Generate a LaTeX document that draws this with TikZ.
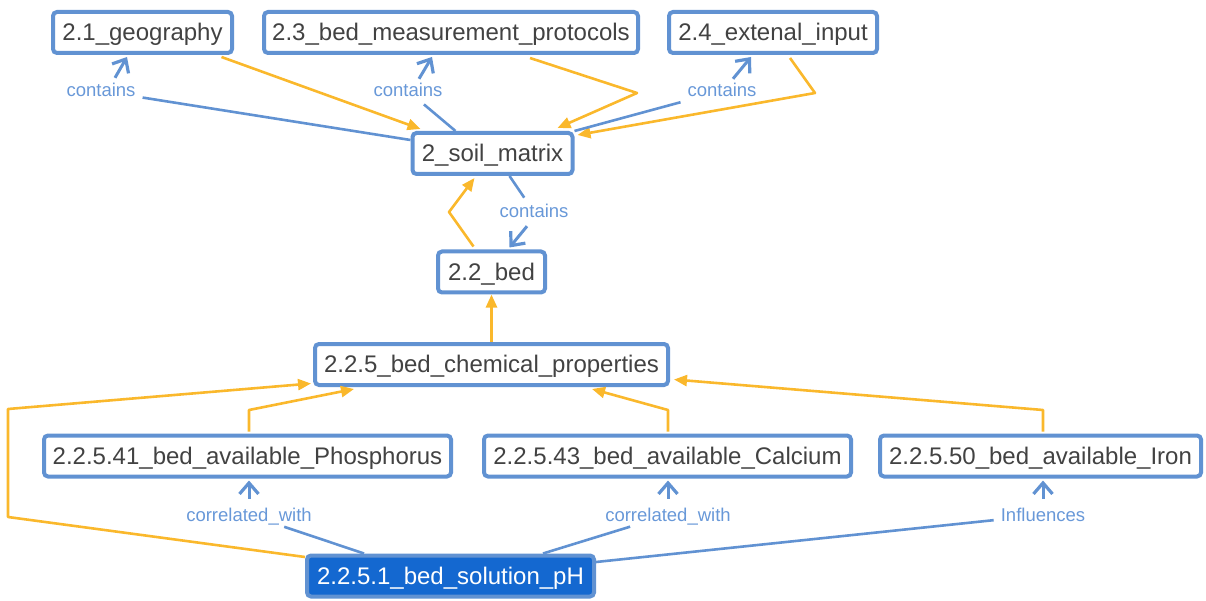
\documentclass[tikz,border=0pt]{standalone}
\usepackage{fontspec}
\setmainfont{Liberation Sans}
\usetikzlibrary{arrows.meta}

\definecolor{nodeblue}{RGB}{97,146,210}
\definecolor{edgeorange}{RGB}{250,184,44}
\definecolor{labelblue}{RGB}{104,152,216}
\definecolor{nodetext}{RGB}{66,66,66}
\definecolor{selfill}{RGB}{20,104,208}

\tikzset{
  concept/.style={draw=nodeblue, line width=4pt, rounded corners=4pt, fill=white,
    text=nodetext, font=\fontsize{24}{28}\selectfont, minimum height=41pt,
    inner sep=0pt, text height=19pt, text depth=3pt},
  selected/.style={concept, fill=selfill, text=white},
  rel/.style={text=labelblue, font=\fontsize{18.5}{21}\selectfont, inner sep=2pt,
    text height=14pt, text depth=2pt},
  partof/.style={draw=edgeorange, line width=2.6pt, line join=round,
    -{Triangle[length=13pt,width=11pt]}},
  relline/.style={draw=nodeblue, line width=2.6pt, shorten >=5pt},
  relarrow/.style={draw=nodeblue, line width=3pt,
    -{Straight Barb[length=11pt,width=19pt,line width=3.2pt]}},
}

\begin{document}
\begin{tikzpicture}[x=1pt, y=-1pt]
\useasboundingbox (0,0) rectangle (1206,601);

% concepts
\node[concept, minimum width=179pt] (geo)  at (142.5,32.5) {2.1\_geography};
\node[concept, minimum width=374pt] (meas) at (451,32.5)   {2.3\_bed\_measurement\_protocols};
\node[concept, minimum width=208pt] (ext)  at (773,32.5)   {2.4\_extenal\_input};
\node[concept, minimum width=160pt] (soil) at (492.5,153.5) {2\_soil\_matrix};
\node[concept, minimum width=107pt] (bed)  at (491.5,272)  {2.2\_bed};
\node[concept, minimum width=353pt] (chem) at (491.5,364.5) {2.2.5\_bed\_chemical\_properties};
\node[concept, minimum width=407pt] (phos) at (247.5,456)  {2.2.5.41\_bed\_available\_Phosphorus};
\node[concept, minimum width=367pt] (calc) at (667.5,456)  {2.2.5.43\_bed\_available\_Calcium};
\node[concept, minimum width=321pt] (iron) at (1040.5,456) {2.2.5.50\_bed\_available\_Iron};
\node[selected, minimum width=287pt] (ph) at (450.5,576)   {2.2.5.1\_bed\_solution\_pH};

% relation labels
\node[rel] (gl) at (101,91)  {contains};
\node[rel] (ml) at (408,91)  {contains};
\node[rel] (el) at (722,91)  {contains};
\node[rel] (bl) at (534,212) {contains};
\node[rel] (pl) at (249,515) {correlated\_with};
\node[rel] (cl) at (668,515) {correlated\_with};
\node[rel] (fl) at (1043,515) {Influences};

% part-of links
\draw[partof] ([xshift=79pt,yshift=-2pt]geo.south) -- ([xshift=10pt,yshift=2pt]soil.north west);
\draw[partof] ([xshift=79pt,yshift=-3pt]meas.south) -- (637,93) -- ([xshift=-17pt,yshift=3pt]soil.north east);
\draw[partof] ([xshift=17pt,yshift=-3pt]ext.south) -- (815,93) -- ([xshift=3pt,yshift=-4pt]soil.north east);
\draw[partof] ([xshift=-18pt,yshift=3pt]bed.north) -- (449,212) -- ([xshift=-18pt,yshift=-2pt]soil.south);
\draw[partof] (chem.north) -- (bed.south);
\draw[partof] ([xshift=1.5pt,yshift=2pt]phos.north) -- (249,410) -- ([xshift=41pt,yshift=-2pt]chem.south west);
\draw[partof] ([yshift=19pt]ph.west) -- (8,517) -- (8,409) -- ([xshift=-2pt,yshift=-19pt]chem.west);
\draw[partof] ([xshift=0.5pt,yshift=2pt]calc.north) -- (668,410) -- ([xshift=-78pt,yshift=-2pt]chem.south east);
\draw[partof] ([xshift=2.5pt,yshift=2pt]iron.north) -- (1043,410) -- ([xshift=4pt,yshift=-15pt]chem.east);

% contains relations
\draw[relline] ([yshift=-9pt]soil.north west) -- (gl);
\draw[relarrow] ([xshift=14pt,yshift=3pt]gl.north) -- ([xshift=-15.5pt,yshift=-2pt]geo.south);
\draw[relline] ([xshift=-37pt]soil.north) -- (ml);
\draw[relarrow] ([xshift=11pt,yshift=2pt]ml.north) -- ([xshift=-19pt,yshift=-2pt]meas.south);
\draw[relline] (soil.north east) -- (el);
\draw[relarrow] ([xshift=11pt,yshift=2pt]el.north) -- ([xshift=-22pt,yshift=-2pt]ext.south);
\draw[relline] ([xshift=17pt]soil.south) -- (bl);
\draw[relarrow] ([xshift=-7pt,yshift=-4pt]bl.south) -- ([xshift=18pt,yshift=2pt]bed.north);

% pH relations
\draw[relline] ([xshift=-86.5pt]ph.north) -- (pl);
\draw[relarrow] ([yshift=6pt]pl.north) -- ([xshift=1.5pt,yshift=-2pt]phos.south);
\draw[relline] ([xshift=92.5pt]ph.north) -- (cl);
\draw[relarrow] ([yshift=6pt]cl.north) -- ([xshift=0.5pt,yshift=-2pt]calc.south);
\draw[relline] ([yshift=14pt]ph.east) -- (fl);
\draw[relarrow] ([yshift=6pt]fl.north) -- ([xshift=2.5pt,yshift=-2pt]iron.south);
\end{tikzpicture}
\end{document}
